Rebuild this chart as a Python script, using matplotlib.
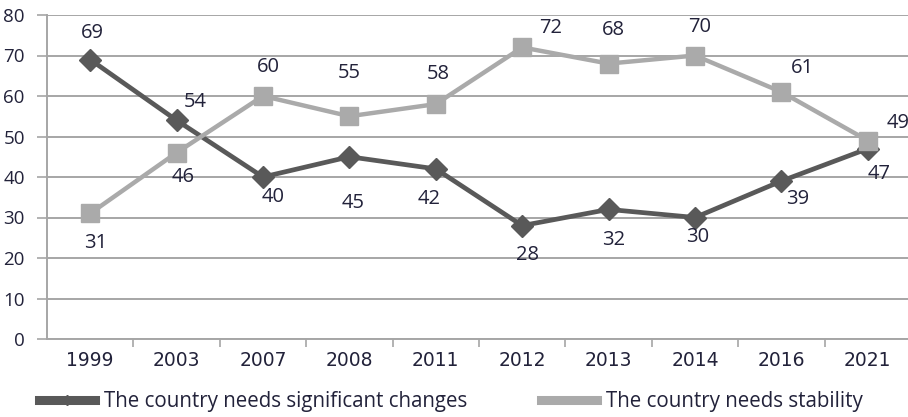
import matplotlib.pyplot as plt
from matplotlib.lines import Line2D
from matplotlib.ticker import FixedLocator

years = ["1999", "2003", "2007", "2008", "2011", "2012", "2013", "2014", "2016", "2021"]
changes = [69, 54, 40, 45, 42, 28, 32, 30, 39, 47]
stability = [31, 46, 60, 55, 58, 72, 68, 70, 61, 49]

# label offsets (pixels) relative to each marker
changes_off = [(2, 27), (19, 18), (10, -20), (4, -46), (-7, -30),
               (5, -29), (5, -31), (3, -20), (16, -18), (11, -25)]
stability_off = [(5, -30), (7, -24), (5, 29), (0, 43), (2, 30),
                 (28, 19), (5, 34), (5, 28), (21, 24), (30, 18)]

DARK = "#595959"
LIGHT = "#aaaaaa"
GRID = "#a6a6a6"
TEXT = "#22223a"

plt.rcParams["font.family"] = ["Open Sans", "DejaVu Sans"]

fig = plt.figure(figsize=(9.08, 4.17), dpi=100)
ax = fig.add_axes([47 / 908, 78 / 417, 864 / 908, 324 / 417])

x = list(range(len(years)))
ax.plot(x, changes, color=DARK, lw=3.4, marker="D", ms=11, zorder=3)
ax.plot(x, stability, color=LIGHT, lw=3.2, marker="s", ms=13, zorder=4)

for xi, v, (dx, dy) in zip(x, changes, changes_off):
    ax.annotate(str(v), (xi, v), xytext=(dx, dy), textcoords="offset pixels",
                ha="center", va="center", fontsize=14.5, color=TEXT, zorder=5)
for xi, v, (dx, dy) in zip(x, stability, stability_off):
    ax.annotate(str(v), (xi, v), xytext=(dx, dy), textcoords="offset pixels",
                ha="center", va="center", fontsize=14.5, color=TEXT, zorder=5)

ax.set_xlim(-0.5, len(years) - 0.5)
ax.set_ylim(0, 80)
ax.set_yticks(range(0, 81, 10))
ax.set_xticks(x)
ax.set_xticklabels(years)
ax.xaxis.set_minor_locator(FixedLocator([i + 0.5 for i in range(len(years) - 1)]))
ax.tick_params(axis="x", which="major", length=0, pad=9, labelsize=13.5, labelcolor=TEXT)
ax.tick_params(axis="x", which="minor", length=6, width=1.2, color=GRID)
ax.tick_params(axis="y", length=7, width=1.2, color=GRID, pad=9, labelsize=13.5, labelcolor=TEXT)
for lbl in ax.get_xticklabels():
    lbl.set_family(["Liberation Sans Narrow", "DejaVu Sans"])

ax.grid(axis="y", color=GRID, lw=1.4)
ax.set_axisbelow(True)
for side in ["top", "right"]:
    ax.spines[side].set_visible(False)
for side in ["left", "bottom"]:
    ax.spines[side].set_color(GRID)
    ax.spines[side].set_linewidth(1.4)

handles = [
    Line2D([], [], color=DARK, lw=6.5, marker="D", ms=5),
    Line2D([], [], color=LIGHT, lw=6.5, marker="s", ms=5),
]
fig.legend(handles, ["The country needs significant changes", "The country needs stability"],
           loc="center left", bbox_to_anchor=(39 / 908, 15 / 417), ncol=2, frameon=False,
           fontsize=14.8, handlelength=2.7, handletextpad=0.45, columnspacing=3.6,
           labelcolor=TEXT, borderpad=0, borderaxespad=0)

fig.savefig("out.png", dpi=100)
